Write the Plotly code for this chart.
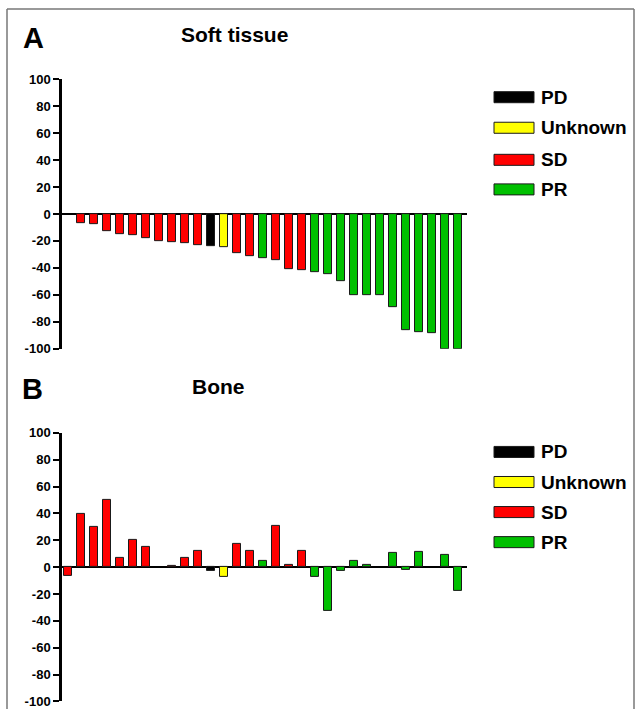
import plotly.graph_objects as go

W, H = 637, 717

# ---- data ----
slots = list(range(31))
response = (["SD"] * 11 + ["PD", "Unknown", "SD", "SD", "PR", "SD", "SD", "SD"] + ["PR"] * 12)
soft_tissue = [None, -7, -7.5, -13, -15, -16, -18, -20, -21, -22, -23,
               -24, -25, -29, -31, -33, -34, -41, -41.5, -43, -45,
               -50, -60, -60, -60, -69, -86.5, -87.5, -88.5, -100, -100]
bone = [-6.5, 40, 30, 50, 7, 20.5, 15, None, 1, 7, 12,
        -3, -7.5, 17, 12, 4.5, 30.5, 2, 12.5, -7, -32.5,
        -2.5, 5, 2, None, 10.5, -2, 11.5, None, 9.5, -17.5]
y_ticks = [100, 80, 60, 40, 20, 0, -20, -40, -60, -80, -100]
legend_labels = ["PD", "Unknown", "SD", "PR"]

colors = {"PD": "#000000", "Unknown": "#FFFF00", "SD": "#FF0000", "PR": "#00C000"}
bar_colors = [colors[r] for r in response]

# vertical placement correction observed in the photographed page
VS, VO = 0.977, 7.0


def px(x):
    return x / W


def py(y):
    return 1 - ((y - VO) / VS) / H


fig = go.Figure()
fig.add_trace(go.Bar(x=slots, y=soft_tissue, marker=dict(color=bar_colors, line=dict(color="#1a1a1a", width=1)),
                     width=0.56, xaxis="x", yaxis="y", showlegend=False))
fig.add_trace(go.Bar(x=slots, y=bone, marker=dict(color=bar_colors, line=dict(color="#1a1a1a", width=1)),
                     width=0.56, xaxis="x2", yaxis="y2", showlegend=False))

xdom = [px(62), px(467)]
xr = [-0.46, 30.7]
yaxis_common = dict(range=[-100, 100], tickvals=y_ticks, ticktext=[str(v) for v in y_ticks],
                    showgrid=False, showline=True, linecolor="black", linewidth=2.5,
                    ticks="outside", ticklen=6, tickwidth=2, tickcolor="black",
                    tickfont=dict(family="Liberation Sans, Arial", size=13, color="black", weight="bold"),
                    zeroline=True, zerolinecolor="black", zerolinewidth=2)

fig.update_layout(
    width=W, height=H, margin=dict(l=0, r=0, t=0, b=0),
    paper_bgcolor="white", plot_bgcolor="rgba(0,0,0,0)",
    bargap=0,
    xaxis=dict(domain=xdom, range=xr, visible=False),
    xaxis2=dict(domain=xdom, range=xr, visible=False, anchor="y2"),
    yaxis=dict(domain=[py(348), py(79)], anchor="x", **yaxis_common),
    yaxis2=dict(domain=[py(700), py(432)], anchor="x2", **yaxis_common),
)

annotations = []
shapes = []
font_b = lambda s: dict(family="Liberation Sans, Arial", size=s, color="black", weight="bold")

annotations.append(dict(text="A", x=px(33), y=py(38), xref="paper", yref="paper", showarrow=False,
                        font=font_b(29), xanchor="center", yanchor="middle"))
annotations.append(dict(text="Soft tissue", x=px(234), y=py(34), xref="paper", yref="paper", showarrow=False,
                        font=font_b(21), xanchor="center", yanchor="middle"))
annotations.append(dict(text="B", x=px(32), y=py(388), xref="paper", yref="paper", showarrow=False,
                        font=font_b(29), xanchor="center", yanchor="middle"))
annotations.append(dict(text="Bone", x=px(219), y=py(386), xref="paper", yref="paper", showarrow=False,
                        font=font_b(21), xanchor="center", yanchor="middle"))

for centers in ([97, 127.5, 159.5, 189], [451, 481, 511, 541]):
    for lab, cy in zip(legend_labels, centers):
        shapes.append(dict(type="rect", xref="paper", yref="paper", x0=px(494), x1=px(534),
                           y0=py(cy + 5.5), y1=py(cy - 5.5), fillcolor=colors[lab],
                           line=dict(color="#1a1a1a", width=1)))
        annotations.append(dict(text=lab, x=px(539), y=py(cy), xref="paper", yref="paper", showarrow=False,
                                font=font_b(19), xanchor="left", yanchor="middle"))

# outer frame (left, top, right edges)
frame = dict(xref="paper", yref="paper", type="line", line=dict(color="#777777", width=1.5))
shapes.append(dict(frame, x0=px(7), x1=px(7), y0=0, y1=py(9)))
shapes.append(dict(frame, x0=px(7), x1=px(634), y0=py(9), y1=py(9)))
shapes.append(dict(frame, x0=px(634), x1=px(634), y0=0, y1=py(9)))

fig.update_layout(annotations=annotations, shapes=shapes)
fig.write_html("out.html", config={"displayModeBar": False},
               post_script="document.body.style.margin='0';document.documentElement.style.overflow='hidden';")
